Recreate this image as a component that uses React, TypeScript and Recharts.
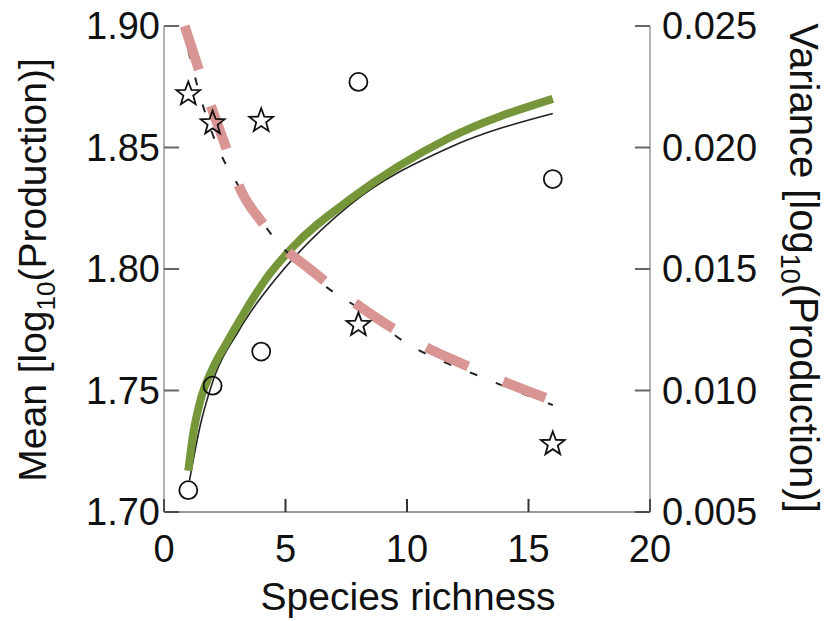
import { ComposedChart, Line, Scatter, XAxis, YAxis, ReferenceLine } from 'recharts'

// observed points
const richness = [1, 2, 4, 8, 16]
const meanObserved = [1.709, 1.752, 1.766, 1.877, 1.837]
const varianceObserved = [0.0222, 0.021, 0.0211, 0.0127, 0.0078]

// axis ticks
const xTicks = [0, 5, 10, 15, 20]
const meanTicks = [1.7, 1.75, 1.8, 1.85, 1.9]
const varianceTicks = [0.005, 0.01, 0.015, 0.02, 0.025]

// fitted curves
const meanFitX = [1.05, 1.5, 1.95, 3.1, 3.9, 4.6, 7.6, 11.75, 16]
const meanFitY = [1.713, 1.736, 1.752, 1.775, 1.787, 1.796, 1.826, 1.85, 1.864]

const meanModelX = [1, 1.2, 1.5, 2.0, 2.6, 3.3, 4.2, 5.3, 7.7, 11.75, 16]
const meanModelY = [1.717, 1.732, 1.746, 1.759, 1.77, 1.782, 1.796, 1.809, 1.829, 1.854, 1.87]

const varFitX = [1, 1.25, 1.55, 2.35, 2.9, 4.4, 5.9, 6.9, 8.0, 9.9, 13.2, 16]
const varFitY = [0.024, 0.023, 0.0219, 0.0197, 0.0187, 0.01645, 0.0149, 0.0141, 0.0134, 0.012, 0.0105, 0.0094]

const varModelX = [0.85, 1.4, 1.9, 2.55, 3.05, 4.05, 4.9, 6.0, 7.0, 8.0, 9.35, 10.75, 12.5, 13.9, 15.7]
const varModelY = [0.025, 0.0233, 0.0218, 0.02, 0.0185, 0.0169, 0.0159, 0.015, 0.0142, 0.0135, 0.0126, 0.0118, 0.011, 0.0104, 0.0097]

const zip = (xs: number[], ys: number[]) => xs.map((x, i) => ({ x, y: ys[i] }))

const meanPoints = zip(richness, meanObserved)
const variancePoints = zip(richness, varianceObserved)
const meanFit = zip(meanFitX, meanFitY)
const meanModel = zip(meanModelX, meanModelY)
const varFit = zip(varFitX, varFitY)
const varModel = zip(varModelX, varModelY)

const FONT = '"Liberation Sans", Arial, sans-serif'
const TICK_FONT = 38

// length of the inward tick marks, in axis units (~15px / ~13px)
const X_TICK_LEN = 0.62
const MEAN_TICK_LEN = 0.0054

function BottomTick(props: any) {
  const { x, y, payload } = props
  return (
    <text x={x} y={y} dy="0.71em" textAnchor="middle" fontSize={TICK_FONT} fontFamily={FONT} fill="#111">
      {String(payload.value)}
    </text>
  )
}

function LeftTick(props: any) {
  const { x, y, payload } = props
  return (
    <text x={x} y={y} dy="0.355em" textAnchor="end" fontSize={TICK_FONT} fontFamily={FONT} fill="#111">
      {Number(payload.value).toFixed(2)}
    </text>
  )
}

function RightTick(props: any) {
  const { x, y, payload } = props
  return (
    <text x={x} y={y} dy="0.355em" textAnchor="start" fontSize={TICK_FONT} fontFamily={FONT} fill="#111">
      {Number(payload.value).toFixed(3)}
    </text>
  )
}

function OpenCircle(props: any) {
  const { cx, cy } = props
  return <circle cx={cx} cy={cy} r={9} fill="none" stroke="#111" strokeWidth={1.8} />
}

function OpenStar(props: any) {
  const { cx, cy } = props
  const pts: string[] = []
  for (let i = 0; i < 10; i++) {
    const r = i % 2 === 0 ? 12.5 : 5.2
    const a = -Math.PI / 2 + (i * Math.PI) / 5
    pts.push(`${cx + r * Math.cos(a)},${cy + r * Math.sin(a)}`)
  }
  return <polygon points={pts.join(' ')} fill="none" stroke="#111" strokeWidth={1.8} />
}

function LeftLabel() {
  return (
    <text x={46} y={270} transform="rotate(-90 46 270)" textAnchor="middle" fontSize={39} fontFamily={FONT} fill="#111">
      <tspan>Mean [log</tspan>
      <tspan fontSize={26} dy={9}>10</tspan>
      <tspan dy={-9}>(Production)]</tspan>
    </text>
  )
}

function RightLabel() {
  return (
    <text x={790} y={268} transform="rotate(90 790 268)" textAnchor="middle" fontSize={40} fontFamily={FONT} fill="#111">
      <tspan>Variance [log</tspan>
      <tspan fontSize={27} dy={9}>10</tspan>
      <tspan dy={-9}>(Production)]</tspan>
    </text>
  )
}

function BottomLabel() {
  return (
    <text x={408} y={610} textAnchor="middle" fontSize={39} fontFamily={FONT} fill="#111">
      Species richness
    </text>
  )
}

export default function App() {
  return (
    <div style={{ position: 'absolute', left: 0, top: 0, width: 827, height: 621, background: '#fff' }}>
      <ComposedChart width={827} height={621} margin={{ top: 26, right: 0, bottom: 0, left: 0 }}>
        <XAxis
          dataKey="x"
          type="number"
          domain={[0, 20]}
          ticks={xTicks}
          height={109}
          tickLine={false}
          tickSize={0}
          tickMargin={23}
          tick={<BottomTick />}
          stroke="#333"
          label={<BottomLabel />}
        />
        <YAxis
          yAxisId="mean"
          orientation="left"
          type="number"
          domain={[1.7, 1.9]}
          ticks={meanTicks}
          width={164}
          tickLine={false}
          tickSize={0}
          tickMargin={4}
          tick={<LeftTick />}
          stroke="#666"
          label={<LeftLabel />}
        />
        <YAxis
          yAxisId="var"
          orientation="right"
          type="number"
          domain={[0.005, 0.025]}
          ticks={varianceTicks}
          width={177}
          tickLine={false}
          tickSize={0}
          tickMargin={12}
          tick={<RightTick />}
          stroke="#666"
          label={<RightLabel />}
        />

        {/* inward tick marks */}
        {xTicks.map((v) => (
          <ReferenceLine
            key={`xt-${v}`}
            yAxisId="mean"
            segment={[{ x: v, y: 1.7 }, { x: v, y: 1.7 + MEAN_TICK_LEN }]}
            stroke="#333"
            strokeWidth={2}
            ifOverflow="visible"
          />
        ))}
        {meanTicks.map((v) => (
          <ReferenceLine
            key={`mt-${v}`}
            yAxisId="mean"
            segment={[{ x: 0, y: v }, { x: X_TICK_LEN, y: v }]}
            stroke="#666"
            strokeWidth={2}
            ifOverflow="visible"
          />
        ))}
        {varianceTicks.map((v) => (
          <ReferenceLine
            key={`vt-${v}`}
            yAxisId="var"
            segment={[{ x: 20 - X_TICK_LEN, y: v }, { x: 20, y: v }]}
            stroke="#666"
            strokeWidth={2}
            ifOverflow="visible"
          />
        ))}

        <Scatter data={meanPoints} dataKey="y" yAxisId="mean" shape={<OpenCircle />} isAnimationActive={false} />
        <Scatter data={variancePoints} dataKey="y" yAxisId="var" shape={<OpenStar />} isAnimationActive={false} />
        <Line data={meanFit} dataKey="y" yAxisId="mean" type="monotone" stroke="#222" strokeWidth={1.6} dot={false} isAnimationActive={false} />
        <Line data={meanModel} dataKey="y" yAxisId="mean" type="monotone" stroke="#76963a" strokeWidth={8} dot={false} isAnimationActive={false} />
        <Line data={varFit} dataKey="y" yAxisId="var" type="monotone" stroke="#222" strokeWidth={2} strokeDasharray="8 20" dot={false} isAnimationActive={false} />
        <Line data={varModel} dataKey="y" yAxisId="var" type="monotone" stroke="#d99594" strokeWidth={10} strokeDasharray="46 38" dot={false} isAnimationActive={false} />
      </ComposedChart>
    </div>
  )
}
